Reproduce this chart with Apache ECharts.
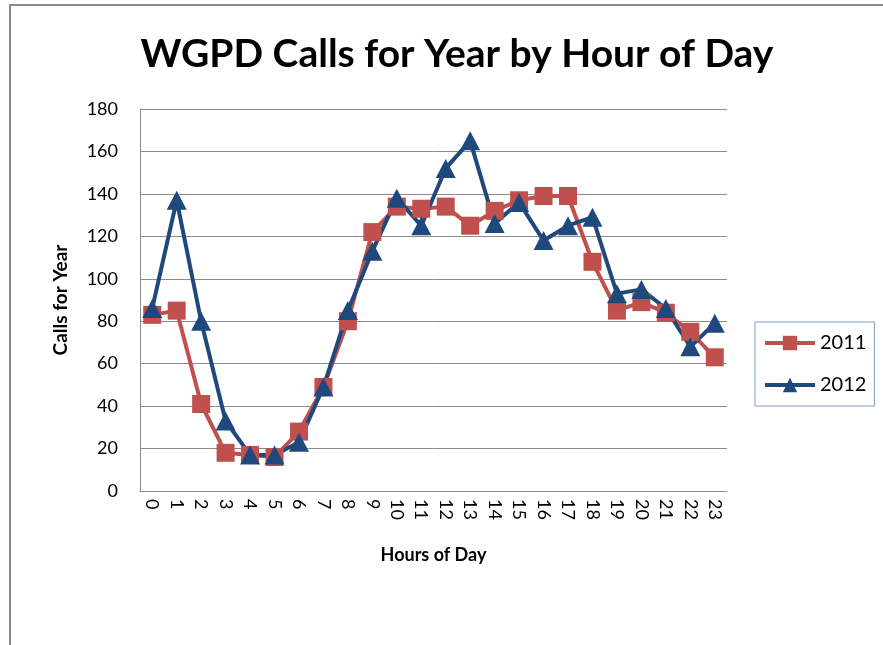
<!DOCTYPE html>
<html><head><meta charset="utf-8">
<script src="https://cdn.jsdelivr.net/npm/echarts@6/dist/echarts.min.js"></script>
<style>html,body{margin:0;padding:0;background:#fff}#c{width:883px;height:645px}</style>
</head><body><div id="c"></div>
<script>
const hours = ['0','1','2','3','4','5','6','7','8','9','10','11','12','13','14','15','16','17','18','19','20','21','22','23'];
const calls2011 = [83,85,41,18,17,16,28,49,80,122,134,133,134,125,132,137,139,139,108,85,89,84,75,63];
const calls2012 = [86,137,80,33,17,17,23,49,85,113,138,125,152,165,126,136,118,125,129,93,95,86,68,79];
const yTicks = [0,20,40,60,80,100,120,140,160,180];

const font = 'Lato, "Open Sans", sans-serif';
const chart = echarts.init(document.getElementById('c'), null, {renderer:'canvas'});
chart.setOption({
  animation:false,
  title:{text:'WGPD Calls for Year by Hour of Day', left:452, top:30, textAlign:'center',
    textStyle:{fontFamily:font, fontWeight:'bold', fontSize:39, color:'#000'}},
  graphic:[{type:'rect', shape:{x:10,y:5,width:1000,height:800}, style:{fill:'none', stroke:'#8c8c8c', lineWidth:2}}],
  grid:{left:140, right:156, top:109, bottom:154},
  legend:{orient:'vertical', left:755, top:322, width:123,
    padding:[11,8,11,8], itemGap:22, itemWidth:50, itemHeight:18,
    borderColor:'#7fa0cf', borderWidth:1,
    lineStyle:{width:4},
    textStyle:{fontFamily:font, fontSize:20, color:'#000'},
    data:['2011','2012']},
  xAxis:{type:'category', data:hours, boundaryGap:true,
    name:'Hours of Day', nameLocation:'middle', nameGap:55,
    nameTextStyle:{fontFamily:font, fontWeight:'bold', fontSize:18, color:'#000'},
    axisLine:{lineStyle:{color:'#8c8c8c'}}, axisTick:{show:false},
    axisLabel:{rotate:-90, interval:0, fontFamily:font, fontSize:18, color:'#000', margin:8}},
  yAxis:{type:'value', min:0, max:180, interval:20,
    name:'Calls for Year', nameLocation:'middle', nameGap:70,
    nameTextStyle:{fontFamily:font, fontWeight:'bold', fontSize:19, color:'#000'},
    axisLine:{show:true, lineStyle:{color:'#8c8c8c'}}, axisTick:{show:false},
    axisLabel:{fontFamily:font, fontSize:18, color:'#000', margin:22,
      formatter:v=>yTicks.includes(v)?String(v):''},
    splitLine:{lineStyle:{color:'#8c8c8c', width:1}}},
  series:[
    {name:'2011', type:'line', data:calls2011, symbol:'rect', symbolSize:18,
      lineStyle:{color:'#c0504d', width:4}, itemStyle:{color:'#c0504d'}},
    {name:'2012', type:'line', data:calls2012, symbol:'triangle', symbolSize:[20,19],
      lineStyle:{color:'#1f497d', width:4}, itemStyle:{color:'#1f497d'}}
  ]
});
</script></body></html>
